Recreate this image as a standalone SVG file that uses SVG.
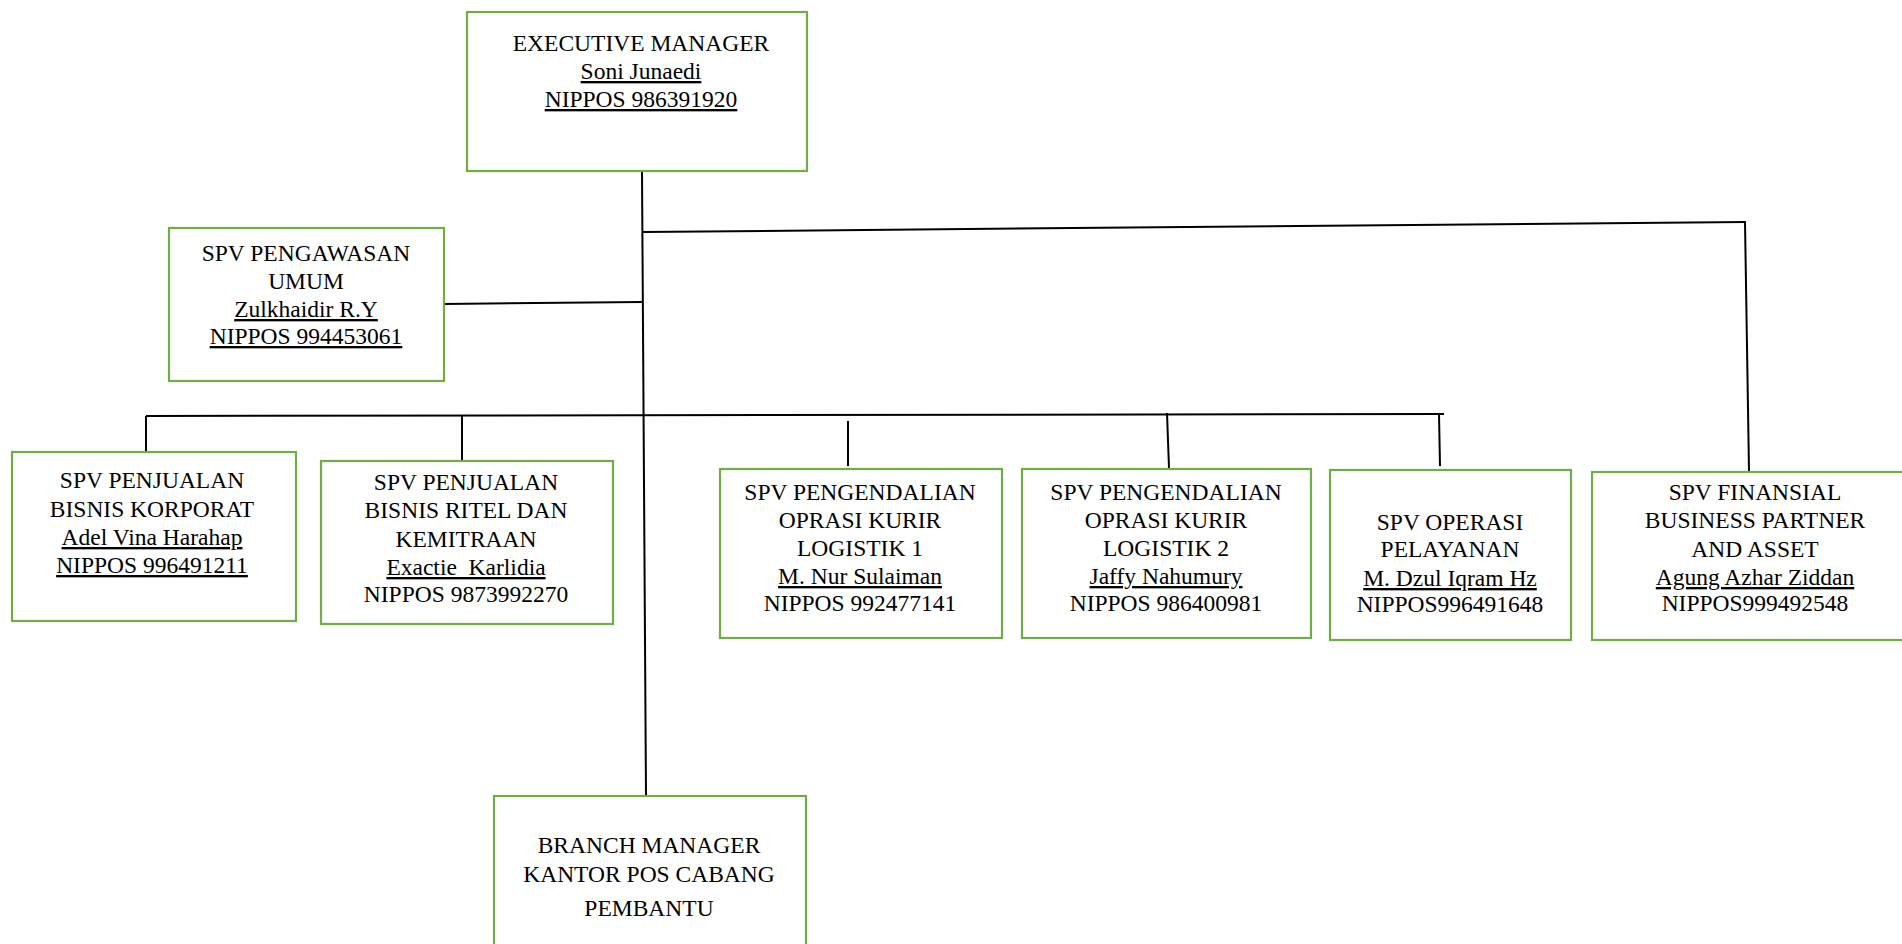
<svg xmlns="http://www.w3.org/2000/svg" width="1902" height="944" viewBox="0 0 1902 944">
<style>
.box{fill:#fff;stroke:#70AD47;stroke-width:2.2}
.ln{stroke:#000;stroke-width:2;fill:none}
text{font-family:"Liberation Serif","Times New Roman",serif;font-size:23.5px;fill:#000;text-anchor:middle}
.u{text-decoration:underline}
</style>
<rect width="1902" height="944" fill="#fff"/>
<g id="connectors">
<line class="ln" x1="642" y1="171" x2="646" y2="796"/>
<line class="ln" x1="642" y1="232" x2="1746" y2="222"/>
<line class="ln" x1="1745" y1="222" x2="1749" y2="471"/>
<line class="ln" x1="444" y1="304" x2="642" y2="302"/>
<line class="ln" x1="146" y1="416" x2="1444" y2="414"/>
<line class="ln" x1="146" y1="416" x2="146" y2="461"/>
<line class="ln" x1="462" y1="416" x2="462" y2="461"/>
<line class="ln" x1="848" y1="421" x2="848" y2="466"/>
<line class="ln" x1="1167" y1="413" x2="1169" y2="468"/>
<line class="ln" x1="1439" y1="414" x2="1440" y2="466"/>
</g>
<g id="executive-manager">
<rect class="box" x="467" y="12" width="340" height="159"/>
<text x="641" y="51">EXECUTIVE MANAGER</text>
<text class="u" x="641" y="79">Soni Junaedi</text>
<text class="u" x="641" y="107">NIPPOS 986391920</text>
</g>
<g id="spv-pengawasan">
<rect class="box" x="169" y="228" width="275" height="153"/>
<text x="306" y="261">SPV PENGAWASAN</text>
<text x="306" y="289">UMUM</text>
<text class="u" x="306" y="317">Zulkhaidir R.Y</text>
<text class="u" x="306" y="344">NIPPOS 994453061</text>
</g>
<g id="spv-korporat">
<rect class="box" x="12" y="452" width="284" height="169"/>
<text x="152" y="488">SPV PENJUALAN</text>
<text x="152" y="517">BISNIS KORPORAT</text>
<text class="u" x="152" y="545">Adel Vina Harahap</text>
<text class="u" x="152" y="573">NIPPOS 996491211</text>
</g>
<g id="spv-ritel">
<rect class="box" x="321" y="461" width="292" height="163"/>
<text x="466" y="490">SPV PENJUALAN</text>
<text x="466" y="518">BISNIS RITEL DAN</text>
<text x="466" y="547">KEMITRAAN</text>
<text class="u" x="466" y="575" xml:space="preserve" style="white-space:pre">Exactie  Karlidia</text>
<text x="466" y="602">NIPPOS 9873992270</text>
</g>
<g id="spv-logistik-1">
<rect class="box" x="720" y="469" width="282" height="169"/>
<text x="860" y="500">SPV PENGENDALIAN</text>
<text x="860" y="528">OPRASI KURIR</text>
<text x="860" y="556">LOGISTIK 1</text>
<text class="u" x="860" y="584">M. Nur Sulaiman</text>
<text x="860" y="611">NIPPOS 992477141</text>
</g>
<g id="spv-logistik-2">
<rect class="box" x="1022" y="469" width="289" height="169"/>
<text x="1166" y="500">SPV PENGENDALIAN</text>
<text x="1166" y="528">OPRASI KURIR</text>
<text x="1166" y="556">LOGISTIK 2</text>
<text class="u" x="1166" y="584">Jaffy Nahumury</text>
<text x="1166" y="611">NIPPOS 986400981</text>
</g>
<g id="spv-operasi">
<rect class="box" x="1330" y="470" width="241" height="170"/>
<text x="1450" y="530">SPV OPERASI</text>
<text x="1450" y="557">PELAYANAN</text>
<text class="u" x="1450" y="586">M. Dzul Iqram Hz</text>
<text x="1450" y="612">NIPPOS996491648</text>
</g>
<g id="spv-finansial">
<rect class="box" x="1592" y="472" width="330" height="168"/>
<text x="1755" y="500">SPV FINANSIAL</text>
<text x="1755" y="528">BUSINESS PARTNER</text>
<text x="1755" y="557">AND ASSET</text>
<text class="u" x="1755" y="585">Agung Azhar Ziddan</text>
<text x="1755" y="611">NIPPOS999492548</text>
</g>
<g id="branch-manager">
<rect class="box" x="494" y="796" width="312" height="170"/>
<text x="649" y="853">BRANCH MANAGER</text>
<text x="649" y="882">KANTOR POS CABANG</text>
<text x="649" y="916">PEMBANTU</text>
</g>
</svg>
